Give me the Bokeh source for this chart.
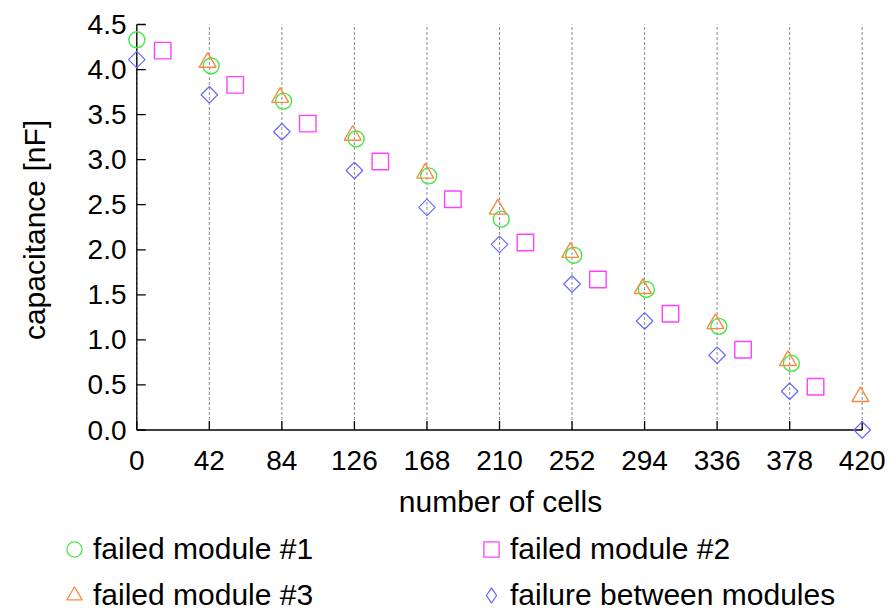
import math
from bokeh.plotting import figure
from bokeh.layouts import column
from bokeh.models import FixedTicker, Range1d, Legend, LegendItem
from bokeh.embed import file_html
from bokeh.resources import INLINE

# ---- data ----
x_ticks = [0, 42, 84, 126, 168, 210, 252, 294, 336, 378, 420]
x_tick_labels = [str(v) for v in x_ticks]
y_ticks = [0.0, 0.5, 1.0, 1.5, 2.0, 2.5, 3.0, 3.5, 4.0, 4.5]
y_tick_labels = ["0.0", "0.5", "1.0", "1.5", "2.0", "2.5", "3.0", "3.5", "4.0", "4.5"]

cells_m1 = [0, 43, 85, 127, 169, 211, 253, 295, 337, 379]
cap_m1 = [4.33, 4.04, 3.65, 3.23, 2.82, 2.34, 1.94, 1.56, 1.15, 0.74]

cells_m2 = [15, 57, 99, 141, 183, 225, 267, 309, 351, 393]
cap_m2 = [4.21, 3.83, 3.40, 2.98, 2.56, 2.08, 1.67, 1.29, 0.89, 0.48]

cells_m3 = [41, 83, 125, 167, 209, 251, 293, 335, 377, 419]
cap_m3 = [4.08, 3.69, 3.27, 2.85, 2.45, 1.97, 1.57, 1.18, 0.77, 0.37]

cells_btw = [0, 42, 84, 126, 168, 210, 252, 294, 336, 378, 420]
cap_btw = [4.11, 3.72, 3.31, 2.88, 2.47, 2.06, 1.62, 1.21, 0.83, 0.43, 0.0]

labels = ["failed module #1", "failed module #2", "failed module #3", "failure between modules"]
colors = ["#44e844", "#ff40ff", "#fa8a42", "#6a6aff"]
series = [(cells_m1, cap_m1), (cells_m2, cap_m2), (cells_m3, cap_m3), (cells_btw, cap_btw)]

FONT = "Liberation Sans"

# ---- geometry (pixels) ----
X0_PX, X1_PX = 136.3, 861.7      # screen x of first / last x tick
YT_PX, YB_PX = 24.0, 429.5       # screen y of top / bottom y tick
FRAME_L, FRAME_R, FRAME_T, FRAME_B = 126, 874, 20, 439
W, H_MAIN, H_LEG = 888, 525, 89
sx = (X1_PX - X0_PX) / (x_ticks[-1] - x_ticks[0])
sy = (YB_PX - YT_PX) / (y_ticks[-1] - y_ticks[0])
x_range = Range1d(x_ticks[0] - (X0_PX - FRAME_L) / sx, x_ticks[-1] + (FRAME_R - X1_PX) / sx)
y_range = Range1d(y_ticks[0] - (FRAME_B - YB_PX) / sy, y_ticks[-1] + (YT_PX - FRAME_T) / sy)

p = figure(width=W, height=H_MAIN,
           frame_width=FRAME_R - FRAME_L, frame_height=FRAME_B - FRAME_T,
           min_border_left=FRAME_L, min_border_right=W - FRAME_R,
           min_border_top=FRAME_T, min_border_bottom=H_MAIN - FRAME_B,
           x_range=x_range, y_range=y_range,
           output_backend="svg", toolbar_location=None,
           x_axis_label="number of cells", y_axis_label="capacitance [nF]")
p.frame_align = False
p.outline_line_color = None
p.background_fill_color = "white"
p.border_fill_color = "white"
p.xgrid.grid_line_color = None
p.ygrid.grid_line_color = None

nx, ny = len(x_ticks), len(y_ticks)
# dashed vertical grid lines at the x ticks
p.segment(x0=x_ticks, y0=[y_ticks[0]] * nx, x1=x_ticks, y1=[y_ticks[-1]] * nx,
          line_color="#8c8c8c", line_dash="3 2", line_width=1)
# axis lines at x=0 / y=0 and inward ticks
p.segment(x0=[x_ticks[0], x_ticks[0]], y0=[y_ticks[0], y_ticks[0]],
          x1=[x_ticks[-1], x_ticks[0]], y1=[y_ticks[0], y_ticks[-1]],
          line_color="black", line_width=1.3)
p.ray(x=x_ticks, y=[y_ticks[0]] * nx, length=9, length_units="screen", angle=math.pi / 2,
      line_color="black", line_width=1.3)
p.ray(x=[x_ticks[0]] * ny, y=y_ticks, length=9, length_units="screen", angle=0,
      line_color="black", line_width=1.3)

specs = [dict(marker="circle", size=16, line_width=1.4),
         dict(marker="square", size=16.5, line_width=1.4),
         dict(marker="triangle", size=17, line_width=1.4),
         dict(marker="square", size=11.7, angle=math.pi / 4, line_width=1.2)]
for (xs, ys), c, s in zip(series, colors, specs):
    p.scatter(xs, ys, fill_color=None, line_color=c, **s)

p.xaxis.ticker = FixedTicker(ticks=x_ticks)
p.xaxis.major_label_overrides = {v: s for v, s in zip(x_ticks, x_tick_labels)}
p.yaxis.ticker = FixedTicker(ticks=y_ticks)
p.yaxis.major_label_overrides = {v: s for v, s in zip(y_ticks, y_tick_labels)}
for ax in (p.xaxis, p.yaxis):
    ax.axis_line_color = None
    ax.major_tick_line_color = None
    ax.minor_tick_line_color = None
    ax.major_tick_in = 0
    ax.major_tick_out = 0
    ax.major_label_text_font = FONT
    ax.major_label_text_font_size = "28px"
    ax.major_label_text_color = "black"
    ax.axis_label_text_font = FONT
    ax.axis_label_text_font_size = "30px"
    ax.axis_label_text_font_style = "normal"
    ax.axis_label_text_color = "black"
p.xaxis.major_label_standoff = 11
p.xaxis.axis_label_standoff = 12
p.yaxis.major_label_standoff = 0
p.yaxis.axis_label_standoff = 34

# ---- legend strip ----
lf = figure(width=W, height=H_LEG, x_range=Range1d(0, 1), y_range=Range1d(0, 1),
            min_border_left=0, min_border_right=0, min_border_top=0, min_border_bottom=0,
            x_axis_type=None, y_axis_type=None, title=None,
            output_backend="svg", toolbar_location=None)
lf.frame_align = False
lf.outline_line_color = None
lf.xgrid.grid_line_color = None
lf.ygrid.grid_line_color = None
lf.background_fill_color = "white"
lf.border_fill_color = "white"
key_markers = ["circle", "square", "triangle", "diamond"]
items = []
for (xs, ys), c, m, lab in zip(series, colors, key_markers, labels):
    r = lf.scatter(xs, ys, marker=m, size=16, fill_color=None, line_color=c,
                   line_width=1.3, visible=False)
    items.append(LegendItem(label=lab, renderers=[r]))

legend = Legend(items=items, location=(55, 0), orientation="horizontal", ncols=2,
                glyph_width=38, glyph_height=38, label_height=38,
                label_standoff=0, label_width=371, spacing=8,
                padding=0, margin=0,
                label_text_font=FONT, label_text_font_size="30px",
                label_text_color="black", inactive_fill_alpha=0,
                border_line_color=None, background_fill_alpha=0)
lf.add_layout(legend, "center")

layout = column(p, lf, spacing=0)
open("out.html", "w").write(file_html(layout, INLINE))
